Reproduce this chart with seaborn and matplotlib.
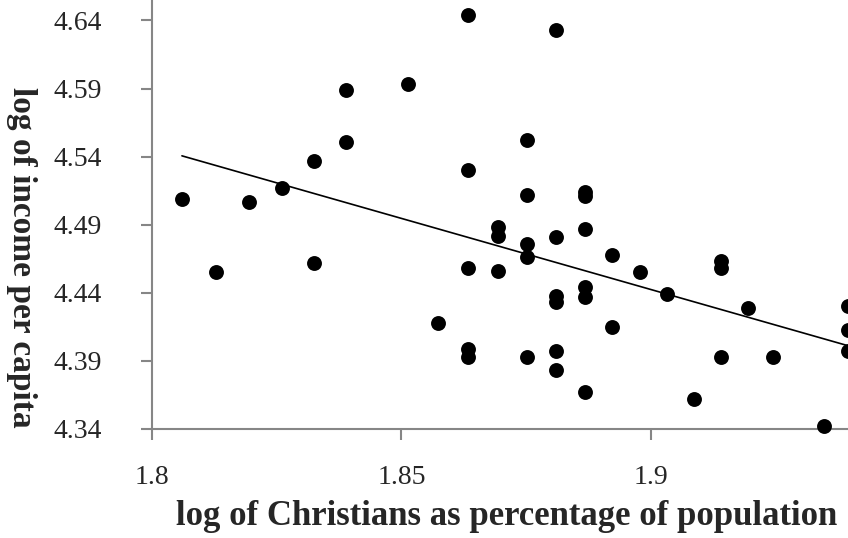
import numpy as np
import pandas as pd
import matplotlib
matplotlib.use("Agg")
import matplotlib.pyplot as plt
import seaborn as sns

# values
christians_log = [
    1.8060, 1.8128, 1.8194, 1.8261, 1.8325, 1.8325, 1.8389, 1.8389, 1.8513,
    1.8573, 1.8633, 1.8633, 1.8633, 1.8633, 1.8633, 1.8693, 1.8693, 1.8693,
    1.8752, 1.8752, 1.8752, 1.8752, 1.8752, 1.8810, 1.8810, 1.8810, 1.8810,
    1.8810, 1.8810, 1.8867, 1.8867, 1.8867, 1.8867, 1.8867, 1.8867, 1.8922,
    1.8922, 1.8978, 1.9032, 1.9086, 1.9140, 1.9140, 1.9140, 1.9194, 1.9244,
    1.9347, 1.9395, 1.9395, 1.9395,
]
income_log = [
    4.509, 4.455, 4.507, 4.517, 4.537, 4.462, 4.589, 4.551, 4.593,
    4.418, 4.644, 4.530, 4.458, 4.399, 4.393, 4.488, 4.482, 4.456,
    4.552, 4.512, 4.476, 4.466, 4.393, 4.633, 4.481, 4.438, 4.433,
    4.397, 4.383, 4.514, 4.511, 4.487, 4.444, 4.437, 4.367, 4.468,
    4.415, 4.455, 4.439, 4.362, 4.463, 4.458, 4.393, 4.429, 4.393,
    4.342, 4.430, 4.413, 4.397,
]
x_ticks = [1.8, 1.85, 1.9]
x_tick_labels = ["1.8", "1.85", "1.9"]
y_ticks = [4.34, 4.39, 4.44, 4.49, 4.54, 4.59, 4.64]
y_tick_labels = ["4.34", "4.39", "4.44", "4.49", "4.54", "4.59", "4.64"]

df = pd.DataFrame({"christians": christians_log, "income": income_log})

sns.set_style("white")
plt.rcParams["font.family"] = ["Liberation Serif", "DejaVu Serif"]

fig = plt.figure(figsize=(8.48, 5.38), dpi=100)
ax = fig.add_axes([152 / 848, 109 / 538, 696 / 848, 429 / 538])

sns.regplot(
    data=df, x="christians", y="income", ax=ax, ci=None,
    scatter_kws={"s": 115, "color": "black", "alpha": 1, "linewidths": 0,
                 "clip_on": False, "zorder": 3},
    line_kws={"color": "black", "linewidth": 1.2},
)

ax.set_xlim(1.8, 1.9395)
ax.set_ylim(4.34, 4.655)
ax.set_xticks(x_ticks, x_tick_labels)
ax.set_yticks(y_ticks, y_tick_labels)

gray = "#868686"
for side in ["top", "right"]:
    ax.spines[side].set_visible(False)
for side in ["left", "bottom"]:
    ax.spines[side].set_color(gray)
    ax.spines[side].set_linewidth(1.5)

ax.tick_params(axis="x", direction="out", length=8, width=1.5, color=gray,
               labelsize=20, pad=18, bottom=True)
ax.tick_params(axis="y", direction="out", length=8, width=1.5, color=gray,
               labelsize=20, pad=28, left=True)

ax.set_xlabel("log of Christians as percentage of population",
              fontsize=25, fontweight="bold", va="top")
ax.xaxis.set_label_coords(0.51, -0.165)
ax.set_ylabel("log of income per capita", fontsize=24, fontweight="bold",
              rotation=270, va="center")
ax.yaxis.set_label_coords(-0.188, 0.40)

fig.savefig("out.png", dpi=100)
plt.close(fig)
